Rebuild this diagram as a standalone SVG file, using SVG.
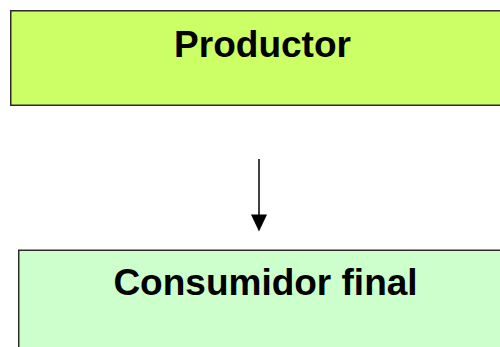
<svg xmlns="http://www.w3.org/2000/svg" width="500" height="347" viewBox="0 0 500 347">
  <style>
    .box { stroke: #2b2b2b; stroke-width: 1.5; }
    .label { font-family: "Liberation Sans", Arial, sans-serif; font-weight: bold; font-size: 37px; fill: #000; text-anchor: middle; }
    .link { stroke: #000; stroke-width: 1.5; fill: none; }
  </style>
  <rect width="500" height="347" fill="#fff"/>
  <g id="productor">
    <rect class="box" x="10.75" y="10.75" width="500" height="94.5" fill="#ccff66"/>
    <text class="label" x="262.5" y="57">Productor</text>
  </g>
  <g id="consumidor-final">
    <rect class="box" x="18.75" y="250.25" width="500" height="110" fill="#ccffcc"/>
    <text class="label" x="265.5" y="295">Consumidor final</text>
  </g>
  <g id="connectors">
    <line class="link" x1="259" y1="159" x2="259" y2="218"/>
    <polygon points="251,214.5 267,214.5 259,231.5" fill="#000"/>
  </g>
</svg>
